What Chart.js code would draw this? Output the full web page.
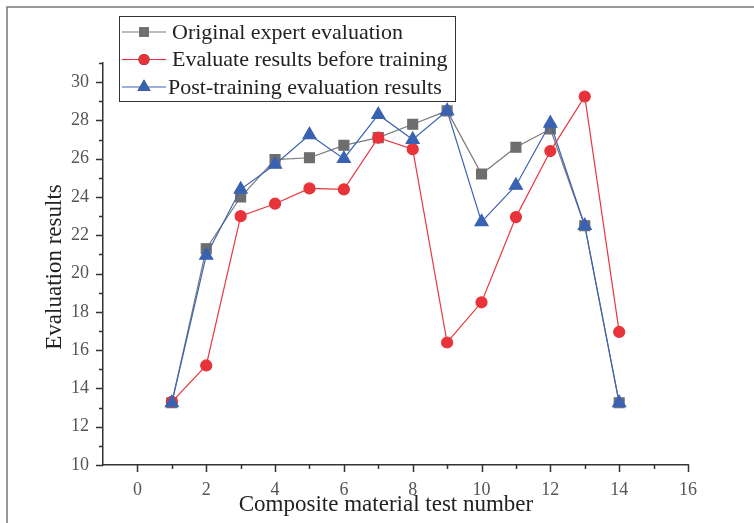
<!DOCTYPE html>
<html>
<head>
<meta charset="utf-8">
<title>Evaluation results</title>
<script src="https://cdn.jsdelivr.net/npm/chart.js@4.4.1/dist/chart.umd.min.js"></script>
<style>
  html, body { margin: 0; padding: 0; background: #fff; }
  #wrap { width: 754px; height: 523px; }
</style>
</head>
<body>
<div id="wrap"><canvas id="chart" width="754" height="523"></canvas></div>
<script>
// test numbers along the x axis
const testNumbers = [1, 2, 3, 4, 5, 6, 7, 8, 9, 10, 11, 12, 13, 14];

// scores per test
const expertScores   = [13.25, 21.3, 24.0, 25.95, 26.05, 26.7, 27.1, 27.8, 28.5, 25.2, 26.6, 27.55, 22.5, 13.25];
const beforeTraining = [13.3, 15.2, 23.0, 23.65, 24.45, 24.4, 27.1, 26.5, 16.4, 18.5, 22.95, 26.4, 29.25, 16.95];
const afterTraining  = [13.25, 20.95, 24.4, 25.7, 27.25, 26.0, 28.3, 27.0, 28.5, 22.7, 24.6, 27.85, 22.5, 13.25];

const seriesNames = ['Original expert evaluation', 'Evaluate results before training', 'Post-training evaluation results'];

const X_MIN = -1, X_MAX = 16;
const Y_MIN = 10, Y_MAX = 31;

const SERIF = '"Liberation Serif", "Times New Roman", serif';

function toPoints(values) {
  return testNumbers.map((x, i) => ({ x: x, y: values[i] }));
}

// outer frame, tick marks (long on even values, short on odd), axis titles, boxed legend
const decorations = {
  id: 'decorations',
  beforeDraw(chart) {
    const ctx = chart.ctx;
    ctx.save();
    ctx.strokeStyle = '#777';
    ctx.lineWidth = 1.5;
    ctx.beginPath();
    ctx.moveTo(7, 523);
    ctx.lineTo(7, 7);
    ctx.lineTo(754, 7);
    ctx.stroke();
    ctx.restore();
  },
  afterDraw(chart) {
    const ctx = chart.ctx;
    const xs = chart.scales.x;
    const ys = chart.scales.y;
    const area = chart.chartArea;

    ctx.save();
    ctx.strokeStyle = '#333';
    ctx.lineWidth = 1.5;
    ctx.beginPath();
    for (let v = X_MIN + 1; v <= X_MAX; v++) {
      const px = Math.round(xs.getPixelForValue(v)) + 0.5;
      const len = v % 2 === 0 ? 7 : 4;
      ctx.moveTo(px, area.bottom);
      ctx.lineTo(px, area.bottom + len);
    }
    for (let v = Y_MIN; v <= Y_MAX; v++) {
      const py = Math.round(ys.getPixelForValue(v)) + 0.5;
      const len = v % 2 === 0 ? 7 : 4;
      ctx.moveTo(area.left, py);
      ctx.lineTo(area.left - len, py);
    }
    ctx.stroke();

    // axis titles
    ctx.fillStyle = '#222';
    ctx.font = '23px ' + SERIF;
    ctx.textAlign = 'center';
    ctx.textBaseline = 'middle';
    ctx.fillText('Composite material test number', 386, 505);
    ctx.translate(55, 267);
    ctx.rotate(-Math.PI / 2);
    ctx.fillText('Evaluation results', 0, 0);
    ctx.restore();

    // legend
    ctx.save();
    ctx.fillStyle = '#fff';
    ctx.fillRect(119, 16, 337, 85);
    ctx.strokeStyle = '#333';
    ctx.lineWidth = 1;
    ctx.strokeRect(119.5, 16.5, 336, 85);
    const rowY = [32, 59.5, 87];
    chart.data.datasets.forEach((ds, i) => {
      const y = rowY[i];
      ctx.strokeStyle = ds.borderColor;
      ctx.lineWidth = 1.2;
      ctx.beginPath();
      ctx.moveTo(122, y);
      ctx.lineTo(166, y);
      ctx.stroke();
      Chart.helpers.drawPoint(ctx, {
        pointStyle: ds.pointStyle,
        radius: ds.pointRadius,
        borderWidth: 0,
        rotation: 0
      }, 144, y);
      ctx.fillStyle = ds.pointBackgroundColor;
      ctx.fill();
      ctx.fillStyle = '#222';
      ctx.font = '22px ' + SERIF;
      ctx.textAlign = 'left';
      ctx.textBaseline = 'middle';
      ctx.fillText(ds.label, i === 2 ? 168 : 172, y + 1);
    });
    ctx.restore();
  }
};

new Chart(document.getElementById('chart'), {
  type: 'line',
  data: {
    datasets: [
      {
        label: seriesNames[0],
        data: toPoints(expertScores),
        borderColor: '#7a7a7a',
        backgroundColor: '#6e6e6e',
        pointBackgroundColor: '#6e6e6e',
        pointBorderColor: '#6e6e6e',
        pointStyle: 'rect',
        pointRadius: 7,
        borderWidth: 1.2,
        order: 3
      },
      {
        label: seriesNames[1],
        data: toPoints(beforeTraining),
        borderColor: '#e8373d',
        backgroundColor: '#e8333a',
        pointBackgroundColor: '#e8333a',
        pointBorderColor: '#e8333a',
        pointStyle: 'circle',
        pointRadius: 5.5,
        borderWidth: 1.2,
        order: 2
      },
      {
        label: seriesNames[2],
        data: toPoints(afterTraining),
        borderColor: '#3b63b3',
        backgroundColor: '#3a62b2',
        pointBackgroundColor: '#3a62b2',
        pointBorderColor: '#3a62b2',
        pointStyle: 'triangle',
        pointRadius: 7.5,
        borderWidth: 1.2,
        order: 1
      }
    ]
  },
  options: {
    responsive: false,
    animation: false,
    events: [],
    layout: { padding: { top: 63, right: 66, left: 0, bottom: 0 } },
    plugins: {
      legend: { display: false },
      tooltip: { enabled: false }
    },
    elements: { line: { tension: 0 }, point: { borderWidth: 0 } },
    scales: {
      x: {
        type: 'linear',
        min: X_MIN,
        max: X_MAX,
        afterFit(scale) { scale.height = 58; },
        border: { display: true, color: '#333', width: 1.5 },
        grid: { display: false },
        ticks: {
          stepSize: 1,
          autoSkip: false,
          maxRotation: 0,
          padding: 6,
          color: '#555',
          font: { family: SERIF, size: 18 },
          callback: v => (v >= 0 && v % 2 === 0 ? v : '')
        }
      },
      y: {
        type: 'linear',
        min: Y_MIN,
        max: Y_MAX,
        afterFit(scale) { scale.width = 103; },
        border: { display: true, color: '#333', width: 1.5 },
        grid: { display: false },
        ticks: {
          stepSize: 1,
          autoSkip: false,
          padding: 6,
          color: '#555',
          font: { family: SERIF, size: 18 },
          callback: v => (v % 2 === 0 ? v : '')
        }
      }
    }
  },
  plugins: [decorations]
});
</script>
</body>
</html>
